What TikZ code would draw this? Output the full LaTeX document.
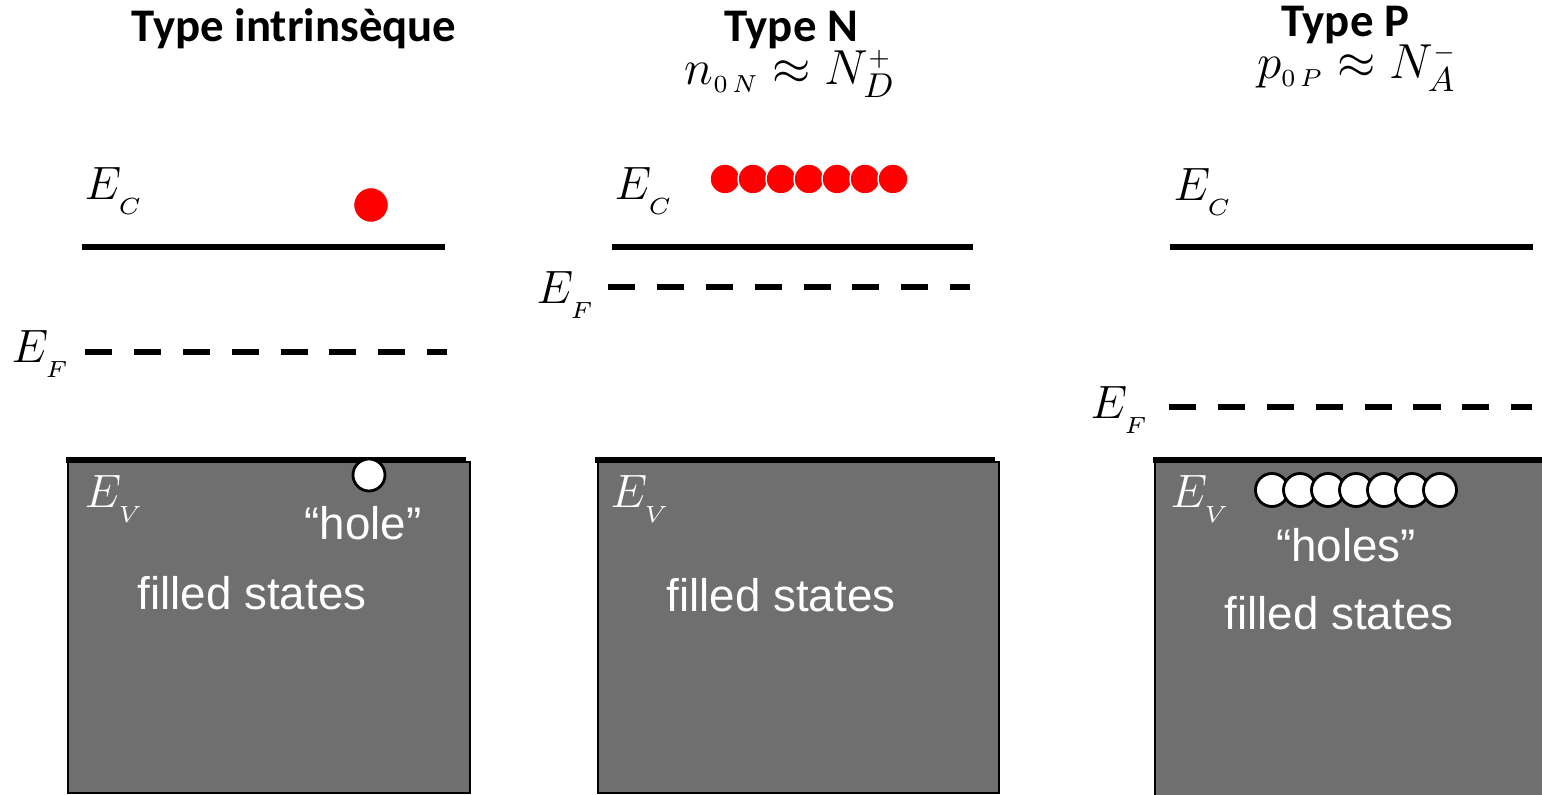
\documentclass[tikz,border=0pt]{standalone}
\usepackage{fix-cm}
\usepackage{fontspec}
\usepackage{xcolor}
\usepackage{tikz}
\newfontfamily\titlefont{Carlito}
\newfontfamily\statefont{Liberation Sans}
\definecolor{bandgray}{RGB}{111, 111, 111}
\definecolor{elecred}{RGB}{255, 0, 0}
\newcommand{\lvl}[1]{$E_{\raisebox{-2pt}{$\scriptscriptstyle #1$}}$}
\tikzset{
  level/.style={line width=1.7pt},
  fermi/.style={line width=1.7pt, dash pattern=on 7.7pt off 6.2pt},
  band/.style={draw=black, line width=0.6pt, fill=bandgray},
  electron/.style={circle, fill=elecred, draw=white, line width=0.4pt, inner sep=0pt},
  holedot/.style={circle, fill=white, draw=black, line width=0.8pt, inner sep=0pt},
  title/.style={anchor=base, inner sep=0pt, font=\titlefont\bfseries\fontsize{13.3}{15}\selectfont},
  formula/.style={anchor=base, inner sep=0pt, font=\fontsize{14}{16}\selectfont},
  elabel/.style={anchor=base west, inner sep=0pt, font=\fontsize{13.3}{15}\selectfont},
  statetext/.style={anchor=base, inner sep=0pt, text=white, font=\statefont\fontsize{13}{15}\selectfont}
}

\begin{document}
\begin{tikzpicture}[x=0.01cm, y=-0.01cm]
\useasboundingbox (0,0) rectangle (1542,795);

% Titles
\node[title] (t1) at (294,42) {Type intrinsèque};
\node[title] (t2) at (791,42) {Type N};
\node[formula] (f2) at (790,85) {$n_{\scriptscriptstyle 0\,N} \approx N^{\scriptscriptstyle +}_{D}$};
\node[title] (t3) at (1345,37) {Type P};
\node[formula] (f3) at (1357,79) {$p_{\scriptscriptstyle 0\,P} \approx N^{\scriptscriptstyle -}_{A}$};

% Intrinsic
\draw[level] (82,247) -- (445,247);
\draw[fermi] (85,352) -- (447,352);
\draw[band] (68,462) rectangle (470,793);
\draw[level] (66,460) -- (466,460);
\node[elabel] (ec1) at (84,200) {\lvl{C}};
\node[elabel] (ef1) at (11,363) {\lvl{F}};
\node[elabel, text=white] (ev1) at (84,508) {\lvl{V}};
\node[electron, minimum size=0.35cm] (e1) at (371,205) {};
\node[holedot, minimum size=0.32cm] (h1) at (369,475) {};
\node[statetext] (hl1) at (363,540) {“hole”};
\node[statetext] (fs1) at (252,610) {filled states};

% Type N
\draw[level] (612,247) -- (973,247);
\draw[fermi] (608,287) -- (970,287);
\draw[band] (598,462) rectangle (999,793);
\draw[level] (595,460) -- (995,460);
\node[elabel] (ec2) at (614,200) {\lvl{C}};
\node[elabel] (ef2) at (536,304) {\lvl{F}};
\node[elabel, text=white] (ev2) at (610,508) {\lvl{V}};
\foreach \i in {0,...,6}
  \node[electron, minimum size=0.3cm] (en\i) at (725+28*\i,179) {};
\node[statetext] (fs2) at (781,612) {filled states};

% Type P
\draw[level] (1170,247) -- (1533,247);
\draw[fermi] (1169,407) -- (1532,407);
\draw[band] (1155,462) rectangle (1560,800);
\draw[level] (1153,460) -- (1550,460);
\node[elabel] (ec3) at (1173,201) {\lvl{C}};
\node[elabel] (ef3) at (1090,419) {\lvl{F}};
\node[elabel, text=white] (ev3) at (1170,508) {\lvl{V}};
\foreach \i in {0,...,6}
  \node[holedot, minimum size=0.33cm] (hp\i) at (1272+28*\i,490) {};
\node[statetext] (hl3) at (1346,562) {“holes”};
\node[statetext] (fs3) at (1339,630) {filled states};
\end{tikzpicture}
\end{document}
